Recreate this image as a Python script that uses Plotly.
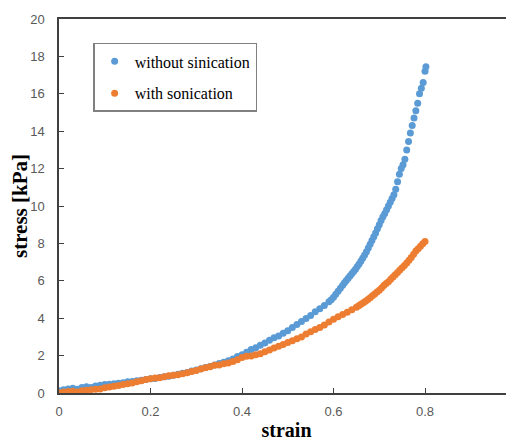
import plotly.graph_objects as go

# without sinication (blue)
strain_a = [0.00, 0.01, 0.02, 0.03, 0.04, 0.05, 0.06, 0.07, 0.08, 0.09,
            0.10, 0.11, 0.12, 0.13, 0.14, 0.15, 0.16, 0.17, 0.18, 0.19,
            0.20, 0.21, 0.22, 0.23, 0.24, 0.25, 0.26, 0.27, 0.28, 0.29,
            0.30, 0.31, 0.32, 0.33, 0.34, 0.35, 0.36, 0.37, 0.38, 0.39,
            0.40, 0.41, 0.42, 0.43, 0.44, 0.45, 0.46, 0.47, 0.48, 0.49,
            0.50, 0.51, 0.52, 0.53, 0.54, 0.55, 0.56, 0.57, 0.58, 0.59,
            0.595, 0.60, 0.605, 0.61, 0.615, 0.62, 0.624, 0.628, 0.632, 0.636,
            0.64, 0.644, 0.648, 0.652, 0.656, 0.66, 0.664, 0.668, 0.672, 0.676,
            0.68, 0.684, 0.688, 0.692, 0.696, 0.70, 0.704, 0.708, 0.712, 0.716,
            0.72, 0.724, 0.728, 0.732, 0.736, 0.74, 0.744, 0.748, 0.752, 0.756,
            0.76, 0.764, 0.768, 0.772, 0.776, 0.78, 0.784, 0.788, 0.792, 0.796,
            0.80, 0.802]
stress_a = [0.12, 0.18, 0.22, 0.25, 0.20, 0.30, 0.33, 0.30, 0.38, 0.42,
            0.45, 0.47, 0.50, 0.52, 0.55, 0.60, 0.62, 0.65, 0.68, 0.72,
            0.76, 0.78, 0.83, 0.87, 0.90, 0.95, 1.00, 1.05, 1.10, 1.17,
            1.23, 1.30, 1.36, 1.42, 1.50, 1.58, 1.65, 1.73, 1.82, 1.95,
            2.05, 2.18, 2.32, 2.42, 2.55, 2.68, 2.82, 2.95, 3.05, 3.20,
            3.33, 3.50, 3.66, 3.82, 3.98, 4.15, 4.35, 4.50, 4.68, 4.88,
            4.98, 5.12, 5.28, 5.44, 5.60, 5.76, 5.90, 6.02, 6.14, 6.26,
            6.38, 6.50, 6.62, 6.76, 6.90, 7.06, 7.22, 7.38, 7.55, 7.75,
            7.95, 8.15, 8.35, 8.55, 8.78, 9.00, 9.22, 9.42, 9.60, 9.80,
            10.0, 10.2, 10.4, 10.6, 10.9, 11.3, 11.7, 12.0, 12.2, 12.5,
            13.0, 13.45, 13.9, 14.3, 14.7, 15.1, 15.5, 16.0, 16.3, 16.6,
            17.2, 17.45]

# with sonication (orange)
strain_b = [0.00, 0.01, 0.02, 0.03, 0.04, 0.05, 0.06, 0.07, 0.08, 0.09,
            0.10, 0.11, 0.12, 0.13, 0.14, 0.15, 0.16, 0.17, 0.18, 0.19,
            0.20, 0.21, 0.22, 0.23, 0.24, 0.25, 0.26, 0.27, 0.28, 0.29,
            0.30, 0.31, 0.32, 0.33, 0.34, 0.35, 0.36, 0.37, 0.38, 0.39,
            0.40, 0.41, 0.42, 0.43, 0.44, 0.45, 0.46, 0.47, 0.48, 0.49,
            0.50, 0.51, 0.52, 0.53, 0.54, 0.55, 0.56, 0.57, 0.58, 0.59,
            0.60, 0.61, 0.62, 0.63, 0.64, 0.65, 0.655, 0.66, 0.665, 0.67,
            0.675, 0.68, 0.685, 0.69, 0.695, 0.70, 0.705, 0.71, 0.715, 0.72,
            0.725, 0.73, 0.735, 0.74, 0.745, 0.75, 0.755, 0.76, 0.765, 0.77,
            0.775, 0.78, 0.785, 0.79, 0.795, 0.80]
stress_b = [0.02, 0.05, 0.08, 0.10, 0.06, 0.12, 0.15, 0.18, 0.20, 0.22,
            0.28, 0.32, 0.36, 0.40, 0.45, 0.50, 0.53, 0.60, 0.65, 0.72,
            0.76, 0.80, 0.82, 0.87, 0.92, 0.95, 0.98, 1.03, 1.08, 1.15,
            1.20, 1.28, 1.35, 1.40, 1.48, 1.50, 1.56, 1.60, 1.68, 1.78,
            1.90, 1.96, 1.98, 2.05, 2.10, 2.20, 2.30, 2.40, 2.50, 2.60,
            2.70, 2.80, 2.90, 3.00, 3.15, 3.28, 3.40, 3.50, 3.64, 3.80,
            3.95, 4.08, 4.20, 4.32, 4.45, 4.58, 4.66, 4.75, 4.82, 4.90,
            5.00, 5.10, 5.20, 5.30, 5.40, 5.50, 5.62, 5.75, 5.85, 5.95,
            6.08, 6.20, 6.32, 6.45, 6.58, 6.70, 6.82, 6.95, 7.10, 7.25,
            7.42, 7.60, 7.72, 7.85, 7.98, 8.10]

y_ticks = [0, 2, 4, 6, 8, 10, 12, 14, 16, 18, 20]
x_ticks = [0, 0.2, 0.4, 0.6, 0.8]
x_tick_text = ["0", "0.2", "0.4", "0.6", "0.8"]

fig = go.Figure()
fig.add_trace(go.Scatter(x=strain_a, y=stress_a, mode="markers",
                         name="without sinication", legendgroup="a",
                         marker=dict(color="#5B9BD5", size=7)))
fig.add_trace(go.Scatter(x=strain_b, y=stress_b, mode="markers",
                         name="with sonication", legendgroup="b",
                         marker=dict(color="#ED7D31", size=7)))

axis_font = dict(family="Liberation Sans, Arial", size=13, color="#595959")
serif = "Liberation Serif, Times New Roman, serif"
# the page body adds an 8px offset, so the figure is sized 8px smaller
fig.update_layout(
    width=506, height=435,
    margin=dict(l=51, r=0, t=11, b=50),
    plot_bgcolor="white", paper_bgcolor="white",
    showlegend=True,
    legend=dict(x=0.075, y=0.936, xanchor="left", yanchor="top",
                bordercolor="#808080", borderwidth=1.5, bgcolor="white",
                font=dict(family=serif, size=16, color="black"),
                traceorder="grouped", tracegroupgap=8, itemsizing="trace"),
    xaxis=dict(range=[0, 0.9945], tickvals=x_ticks, ticktext=x_tick_text,
               automargin=False,
               showgrid=False, zeroline=False, showline=True, linecolor="#404040",
               linewidth=1.5, mirror=True, ticks="inside", ticklen=5, tickcolor="#404040",
               tickfont=axis_font, ticklabelstandoff=6,
               title=dict(text="<b>strain</b>", standoff=5,
                          font=dict(family=serif, size=20, color="black"))),
    yaxis=dict(range=[0, 20], tickvals=y_ticks,
               automargin=False,
               showgrid=False, zeroline=False, showline=True, linecolor="#404040",
               linewidth=1.5, ticks="inside", ticklen=5, tickcolor="#404040",
               tickfont=axis_font, ticklabelstandoff=10,
               title=dict(text="<b>stress [kPa]</b>", standoff=1,
                          font=dict(family=serif, size=21, color="black"))),
)

fig.write_html("out.html")
